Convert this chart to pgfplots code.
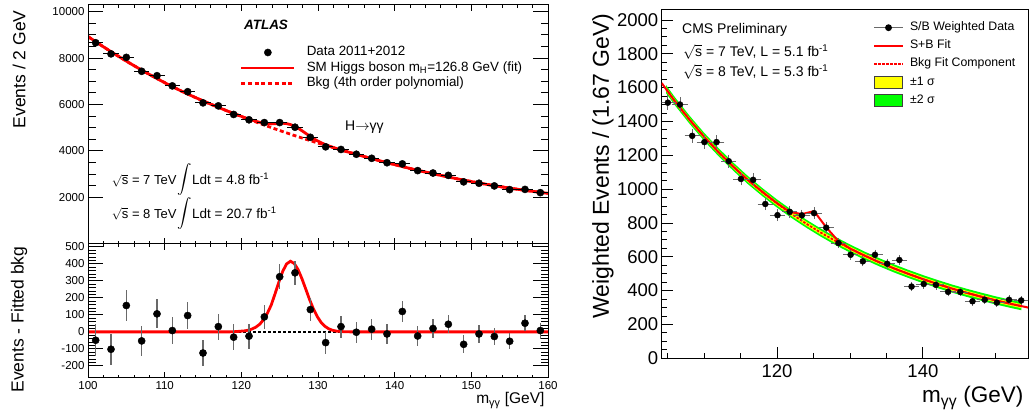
\documentclass[border=0pt]{standalone}
\usepackage{exscale}
\usepackage{fontspec}
\setmainfont{Liberation Sans}
\usepackage{pgfplots}
\usepackage{pgfplotstable}
\pgfplotsset{compat=1.18}
\newcommand{\fs}[1]{\fontsize{#1}{#1}\selectfont}
\definecolor{rootred}{RGB}{255,0,0}
\definecolor{bandgreen}{RGB}{0,255,0}
\definecolor{bandyellow}{RGB}{255,255,0}
\definecolor{errgray}{RGB}{105,105,105}

\pgfplotsset{
  panel/.style={scale only axis, anchor=south west, tick align=inside,
    axis line style={line width=1pt}, tick style={black, line width=0.9pt},
    scaled ticks=false,
    /pgf/number format/1000 sep={}, /pgf/number format/assume math mode=true},
  atlasline/.style={legend image code/.code={\draw[##1] (0pt,0pt) -- (53pt,0pt);}},
  atlasmark/.style={legend image code/.code={\path (0pt,0pt) (53pt,0pt);
      \draw[##1,mark repeat=2,mark phase=2] plot coordinates {(0pt,0pt) (26.5pt,0pt) (53pt,0pt)};}},
  cmsline/.style={legend image code/.code={\draw[##1] (0pt,0pt) -- (29pt,0pt);}},
  cmsmark/.style={legend image code/.code={\draw[##1,mark repeat=2,mark phase=2] plot coordinates {(0pt,0pt) (14.5pt,0pt) (29pt,0pt)};}},
  cmsbox/.style={legend image code/.code={\draw[fill=#1, draw=black!75, line width=0.8pt] (0pt,-6pt) rectangle (28.4pt,6pt);}},
}

% ATLAS: data (events / 2 GeV)
\pgfplotstableread{
x y ex ey
101 8660 1 93
103 8180 1 90
105 8030 1 90
107 7430 1 86
109 7240 1 85
111 6800 1 82
113 6550 1 81
115 6070 1 78
117 5940 1 77
119 5570 1 75
121 5340 1 73
123 5220 1 72
125 5220 1 72
127 5020 1 71
129 4585 1 68
131 4175 1 65
133 4060 1 64
135 3855 1 62
137 3680 1 61
139 3490 1 59
141 3440 1 59
143 3150 1 56
145 3045 1 55
147 2945 1 54
149 2665 1 52
151 2605 1 51
153 2490 1 50
155 2330 1 48
157 2340 1 48
159 2200 1 47
}\atlasdata

% ATLAS: data minus fitted background
\pgfplotstableread{
x r er
101 -49 93
103 -102 90
105 155 90
107 -53 86
109 106 85
111 8 82
113 96 81
115 -124 78
117 31 77
119 -31 75
121 -25 73
123 88 72
125 324 72
127 347 71
129 131 68
131 -63 65
133 31 64
135 -2 62
137 16 61
139 -12 59
141 120 59
143 -24 56
145 20 55
147 45 54
149 -73 52
151 -12 51
153 -27 50
155 -55 48
157 51 48
159 8 47
}\atlasres

% ATLAS: background polynomial
\pgfplotstableread{
x b
100 8928
102 8488
104 8070
106 7673
108 7297
110 6941
112 6607
114 6302
116 6014
118 5742
120 5482
122 5234
124 4994
126 4765
128 4546
130 4337
132 4138
134 3944
136 3758
138 3579
140 3407
142 3243
144 3090
146 2945
148 2808
150 2679
152 2557
154 2447
156 2347
158 2255
160 2170
}\atlasbkg

% ATLAS: signal + background
\pgfplotstableread{
x s
100 8928
102 8488
104 8070
106 7673
108 7297
110 6941
112 6607
114 6302
116 6014
118 5742
119.4 5562
120.4 5438
120.9 5380
121.4 5325
121.9 5274
122.4 5231
122.9 5198
123.4 5176
123.9 5164
124.4 5172
124.9 5184
125.4 5190
125.9 5175
126.4 5136
126.9 5068
127.4 4978
127.9 4870
128.4 4756
128.9 4642
129.4 4535
129.9 4437
130.4 4353
130.9 4280
131.4 4216
131.9 4158
132.4 4104
133.4 4003
134.4 3907
136 3758
138 3579
140 3407
142 3243
144 3090
146 2945
148 2808
150 2679
152 2557
154 2447
156 2347
158 2255
160 2170
}\atlassb

% ATLAS: fitted signal in the residual panel
\pgfplotstableread{
x s
100 0
118.4 0
119.4 2
120.4 6
120.9 10
121.4 17
121.9 28
122.4 45
122.9 72
123.4 110
123.9 158
124.4 224
124.9 293
125.4 356
125.9 399
126.4 415
126.9 402
127.4 366
127.9 313
128.4 252
128.9 190
129.4 135
129.9 90
130.4 56
130.9 33
131.4 18
131.9 9.5
132.4 4.6
133.4 1
134.4 0
160 0
}\atlassig

% CMS: S/B weighted data
\pgfplotstableread{
x y ex ey
105.04 1511 0.835 33
106.71 1500 0.835 33
108.38 1315 0.835 31
110.05 1278 0.835 30
111.72 1278 0.835 30
113.39 1165 0.835 29
115.06 1060 0.835 28
116.73 1055 0.835 28
118.40 912 0.835 26
120.07 846 0.835 25
121.74 866 0.835 25
123.41 845 0.835 25
125.08 858 0.835 25
126.75 772 0.835 24
128.42 681 0.835 22
130.09 612 0.835 21
131.76 573 0.835 20
133.43 612 0.835 21
135.10 559 0.835 20
136.77 581 0.835 20
138.44 424 0.835 18
140.11 439 0.835 18
141.78 434 0.835 18
143.45 393 0.835 17
145.12 392 0.835 17
146.79 337 0.835 16
148.46 346 0.835 16
150.13 329 0.835 15
151.80 346 0.835 16
153.47 342 0.835 16
}\cmsdata

% CMS: background fit component
\pgfplotstableread{
x b
104.8 1591
106 1520
108 1411
110 1310
112 1218
114 1133
116 1054
118 982
120 915
122 853
124 796
126 743
128 694
130 649
132 607
134 568
136 532
138 499
140 468
142 439
144 412
146 387
148 364
150 342
152 322
153.5 308
}\cmsbkg

% CMS: +-2 sigma band (upper edge, then lower edge backwards)
\pgfplotstableread{
x y
104.8 1615
106 1544
108 1435
110 1334
112 1242
114 1157
116 1078
118 1006
120 939
122 877
124 820
126 767
128 718
130 673
132 631
134 592
136 556
138 523
140 492
142 463
144 436
146 411
148 388
150 366
152 346
153.5 332
153.5 284
152 298
150 318
148 340
146 363
144 388
142 415
140 444
138 475
136 508
134 544
132 583
130 625
128 670
126 719
124 772
122 829
120 891
118 958
116 1030
114 1109
112 1194
110 1286
108 1387
106 1496
104.8 1567
}\cmstwo

% CMS: +-1 sigma band (upper edge, then lower edge backwards)
\pgfplotstableread{
x y
104.8 1603
106 1532
108 1423
110 1322
112 1230
114 1145
116 1066
118 994
120 927
122 865
124 808
126 755
128 706
130 661
132 619
134 580
136 544
138 511
140 480
142 451
144 424
146 399
148 376
150 354
152 334
153.5 320
153.5 296
152 310
150 330
148 352
146 375
144 400
142 427
140 456
138 487
136 520
134 556
132 595
130 637
128 682
126 731
124 784
122 841
120 903
118 970
116 1042
114 1121
112 1206
110 1298
108 1399
106 1508
104.8 1579
}\cmsone

% CMS: S+B fit
\pgfplotstableread{
x s
104.2 1627
106 1520
108 1411
110 1310
112 1218
114 1133
116 1054
118.40 970
120.07 915
121.74 866
123.41 852
125.08 870
126.75 774
128.42 692
130.09 647
132 607
134 568
136 532
138 499
140 468
142 439
144 412
146 387
148 364
150 342
152 322
154 304
154.4 300
}\cmssb

\begin{document}
\begin{tikzpicture}[x=1pt,y=1pt]
\useasboundingbox (0,0) rectangle (1031,415);

%---------------- ATLAS upper panel
\begin{axis}[panel, at={(88pt,171.3pt)}, width=460pt, height=239pt,
  xmin=100, xmax=160, ymin=0, ymax=10300, xtick=\empty,
  ytick={2000,4000,...,10000}, minor y tick num=3,
  major tick length=15pt, minor tick length=7.5pt,
  tick label style={font=\fs{11.5}},
  legend cell align=left,
  legend style={at={(0.3304,0.8272)}, anchor=north west, draw=none, fill=none,
    inner sep=0pt, outer sep=0pt, row sep=2.5pt, column sep=11pt,
    font=\fs{13.4}, nodes={inner sep=0pt, text height=10pt, text depth=3pt}}]
\addlegendimage{only marks, mark=*, mark size=3.6pt, black, atlasmark}
\addlegendentry{Data 2011+2012}
\addlegendimage{rootred, line width=2.8pt, atlasline}
\addlegendentry{SM Higgs boson m\textsubscript{H}=126.8 GeV (fit)}
\addlegendimage{rootred, line width=2.8pt, dash pattern=on 4pt off 2.7pt, atlasline}
\addlegendentry{Bkg (4th order polynomial)}
\addplot[forget plot, rootred, line width=2.8pt, dash pattern=on 4pt off 2.7pt, smooth] table[x=x, y=b] {\atlasbkg};
\addplot[forget plot, rootred, line width=2.8pt, smooth] table[x=x, y=s] {\atlassb};
\addplot[forget plot, only marks, mark=*, mark size=3.6pt, black,
  error bars/.cd, x dir=both, x explicit, y dir=both, y explicit,
  error mark=none, error bar style={black, line width=1pt}]
  table[x=x, y=y, x error=ex, y error=ey] {\atlasdata};
\end{axis}
\begin{axis}[panel, at={(88pt,171.3pt)}, width=460pt, height=239pt,
  xmin=100, xmax=160, ymin=0, ymax=1, ytick=\empty,
  xtick={100,110,...,160}, minor x tick num=4, xticklabels={},
  major tick length=6pt, minor tick length=3pt]
\addplot[draw=none] coordinates {(100,0.5) (160,0.5)};
\end{axis}

%---------------- ATLAS residual panel
\begin{axis}[panel, at={(88pt,37.3pt)}, width=460pt, height=134pt,
  xmin=100, xmax=160, ymin=-269, ymax=518, xtick=\empty,
  ytick={-200,-100,...,500}, minor y tick num=4,
  major tick length=15pt, minor tick length=7.5pt,
  tick label style={font=\fs{11.5}}]
\addplot[black, line width=1.5pt, dash pattern=on 2.5pt off 2.5pt] coordinates {(100,0) (160,0)};
\addplot[rootred, line width=2.8pt] table[x=x, y=s] {\atlassig};
\addplot[only marks, mark=*, mark size=3.6pt, black,
  error bars/.cd, y dir=both, y explicit,
  error mark=none, error bar style={errgray, line width=1.2pt}]
  table[x=x, y=r, y error=er] {\atlasres};
\end{axis}
\begin{axis}[panel, at={(88pt,37.3pt)}, width=460pt, height=134pt,
  xmin=100, xmax=160, ymin=0, ymax=1, ytick=\empty,
  xtick={100,110,...,160}, minor x tick num=4, xticklabel pos=lower,
  major tick length=6pt, minor tick length=3pt,
  tick label style={font=\fs{11.5}}]
\addplot[draw=none] coordinates {(100,0.5) (160,0.5)};
\end{axis}

%---------------- CMS panel
\begin{axis}[panel, at={(661.7pt,56.7pt)}, width=366.3pt, height=349pt,
  xmin=104.2, xmax=154.4, ymin=0, ymax=2063,
  xtick={120,140}, minor xtick={105,110,115,125,130,135,145,150},
  ytick={0,200,...,2000}, minor y tick num=3, tick pos=left,
  major tick length=11pt, minor tick length=5.5pt,
  tick label style={font=\fs{18.5}},
  xticklabel style={yshift=-3pt},
  legend cell align=left,
  legend style={at={(0.5769,0.9645)}, anchor=north west, draw=none, fill=none,
    inner sep=0pt, outer sep=0pt, row sep=6pt, column sep=6pt,
    font=\fs{12.3}, nodes={inner sep=0pt, text height=9pt, text depth=3pt}}]
\addlegendimage{errgray, line width=0.8pt, mark=*, mark size=3pt, mark options={black, fill=black}, cmsmark}
\addlegendentry{S/B Weighted Data}
\addlegendimage{rootred, line width=2pt, cmsline}
\addlegendentry{S+B Fit}
\addlegendimage{rootred, line width=1.8pt, dash pattern=on 2.5pt off 1.5pt, cmsline}
\addlegendentry{Bkg Fit Component}
\addlegendimage{cmsbox=bandyellow}
\addlegendentry{±1 σ}
\addlegendimage{cmsbox=bandgreen}
\addlegendentry{±2 σ}
\addplot[forget plot, fill=bandgreen, draw=none] table[x=x, y=y] {\cmstwo} -- cycle;
\addplot[forget plot, fill=bandyellow, draw=none] table[x=x, y=y] {\cmsone} -- cycle;
\addplot[forget plot, rootred, line width=1.8pt, dash pattern=on 2.5pt off 1.5pt] table[x=x, y=b] {\cmsbkg};
\addplot[forget plot, rootred, line width=2pt] table[x=x, y=s] {\cmssb};
\addplot[forget plot, only marks, mark=*, mark size=3pt, black,
  error bars/.cd, x dir=both, x explicit, y dir=both, y explicit,
  error mark options={errgray, mark size=1.6pt, line width=0.8pt},
  error bar style={errgray, line width=0.8pt}]
  table[x=x, y=y, x error=ex, y error=ey] {\cmsdata};
\end{axis}

%---------------- text
\node[rotate=90, anchor=east, font=\fs{17.5}] at (19pt,408pt) {Events / 2 GeV};
\node[rotate=90, anchor=east, font=\fs{17.5}] at (19pt,172pt) {Events - Fitted bkg};
\node[anchor=base east, font=\fs{15.5}] at (548pt,11pt) {m\textsubscript{γγ} [GeV]};
\node[anchor=base, font=\bfseries\itshape\fs{13.5}] at (266pt,385.7pt) {ATLAS};
\node[anchor=base west, font=\fs{14}, inner sep=0pt] at (345pt,284.3pt) {H$\rightarrow$γγ};
\node[anchor=base west, font=\fs{13}, inner sep=0pt] at (111.7pt,230pt) {$\sqrt{\mbox{s}}$ = 7 TeV};
\node[anchor=base west, font=\fs{13}, inner sep=0pt] at (111.7pt,196.7pt) {$\sqrt{\mbox{s}}$ = 8 TeV};
\node[font=\fs{14}, inner sep=0pt] at (185pt,235pt) {$\displaystyle\int$};
\node[font=\fs{14}, inner sep=0pt] at (185pt,201.5pt) {$\displaystyle\int$};
\node[anchor=base west, font=\fs{13.5}, inner sep=0pt] at (192pt,230pt) {Ldt = 4.8 fb\textsuperscript{-1}};
\node[anchor=base west, font=\fs{13.5}, inner sep=0pt] at (192pt,196.7pt) {Ldt = 20.7 fb\textsuperscript{-1}};

\node[rotate=90, anchor=east, font=\fs{23}] at (603pt,405pt) {Weighted Events / (1.67 GeV)};
\node[anchor=base east, font=\fs{22.5}] at (1027pt,12pt) {m\textsubscript{γγ} (GeV)};
\node[anchor=base west, font=\fs{14}, inner sep=0pt] at (682pt,381.7pt) {CMS Preliminary};
\node[anchor=base west, font=\fs{14}, inner sep=0pt] at (683pt,358.3pt) {$\sqrt{\mbox{s}}$ = 7 TeV, L = 5.1 fb\textsuperscript{-1}};
\node[anchor=base west, font=\fs{14}, inner sep=0pt] at (683pt,338.3pt) {$\sqrt{\mbox{s}}$ = 8 TeV, L = 5.3 fb\textsuperscript{-1}};
\end{tikzpicture}
\end{document}
